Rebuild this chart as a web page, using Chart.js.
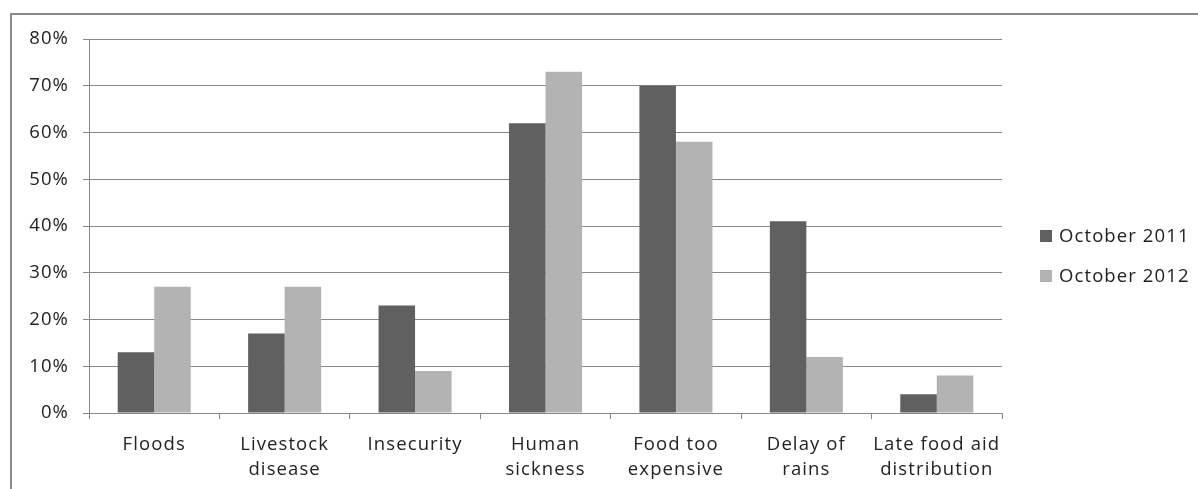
<!DOCTYPE html>
<html>
<head>
<meta charset="utf-8">
<script src="https://cdn.jsdelivr.net/npm/chart.js@4.4.0/dist/chart.umd.min.js"></script>
<style>
  html, body { margin: 0; padding: 0; background: #fff; overflow: hidden; }
  #wrap { position: relative; width: 1198px; height: 489px; }
  #frame { position: absolute; left: 10px; top: 13px; width: 1200px; height: 500px; border: 2px solid #8a8a8a; box-sizing: border-box; }
  canvas { position: absolute; left: 0; top: 0; }
</style>
</head>
<body>
<div id="wrap">
  <div id="frame"></div>
  <canvas id="shocksChart" width="1198" height="489"></canvas>
</div>
<script>
const categories = [
    'Floods',
    ['Livestock', 'disease'],
    'Insecurity',
    ['Human', 'sickness'],
    ['Food too', 'expensive'],
    ['Delay of', 'rains'],
    ['Late food aid', 'distribution']
];
const oct2011 = [13, 17, 23, 62, 70, 41, 4];
const oct2012 = [27, 27, 9, 73, 58, 12, 8];
const yTicks = [0, 10, 20, 30, 40, 50, 60, 70, 80];

const FONT = "'Open Sans', sans-serif";
const SIZE = 18.5;
const SPACING = '1.1px';
const axisGrey = '#888888';

// a bit of letter spacing for every label (resizing the canvas resets it)
const spacedText = {
    id: 'spacedText',
    beforeLayout(chart) { chart.ctx.letterSpacing = SPACING; },
    beforeDraw(chart) { chart.ctx.letterSpacing = SPACING; }
};

// legend drawn by hand to the right of the plot
const sideLegend = {
    id: 'sideLegend',
    afterDraw(chart) {
        const c = chart.ctx;
        const x = 1040;
        const rows = [236, 276];
        c.save();
        c.font = SIZE + "px " + FONT;
        c.letterSpacing = SPACING;
        c.textBaseline = 'middle';
        chart.data.datasets.forEach((ds, i) => {
            c.fillStyle = ds.backgroundColor;
            c.fillRect(x, rows[i] - 6, 12, 12);
            c.fillStyle = '#222';
            c.fillText(ds.label, x + 19, rows[i] + 1);
        });
        c.restore();
    }
};

const ctx = document.getElementById('shocksChart').getContext('2d');
new Chart(ctx, {
    type: 'bar',
    data: {
        labels: categories,
        datasets: [{
            label: 'October 2011',
            data: oct2011,
            backgroundColor: '#606060',
            categoryPercentage: 0.56,
            barPercentage: 1.0
        }, {
            label: 'October 2012',
            data: oct2012,
            backgroundColor: '#b3b3b3',
            categoryPercentage: 0.56,
            barPercentage: 1.0
        }]
    },
    options: {
        responsive: false,
        animation: false,
        layout: { padding: { left: 0, top: 39, right: 196, bottom: 0 } },
        plugins: {
            legend: { display: false },
            tooltip: { enabled: false }
        },
        scales: {
            x: {
                offset: true,
                grid: { drawOnChartArea: false, drawTicks: true, tickLength: 6, offset: true, color: axisGrey },
                border: { display: true, color: axisGrey },
                ticks: { color: '#222', font: { family: FONT, size: SIZE, lineHeight: 1.36 }, padding: 13, maxRotation: 0, autoSkip: false },
                afterFit(scale) { scale.height = 76; }
            },
            y: {
                min: 0,
                max: 80,
                afterBuildTicks(scale) { scale.ticks = yTicks.map(v => ({ value: v })); },
                grid: { color: axisGrey, tickLength: 6 },
                border: { display: true, color: axisGrey },
                ticks: { color: '#222', font: { family: FONT, size: SIZE }, padding: 14, callback: v => v + '%' },
                afterFit(scale) { scale.width = 89; }
            }
        }
    },
    plugins: [spacedText, sideLegend]
});
</script>
</body>
</html>
